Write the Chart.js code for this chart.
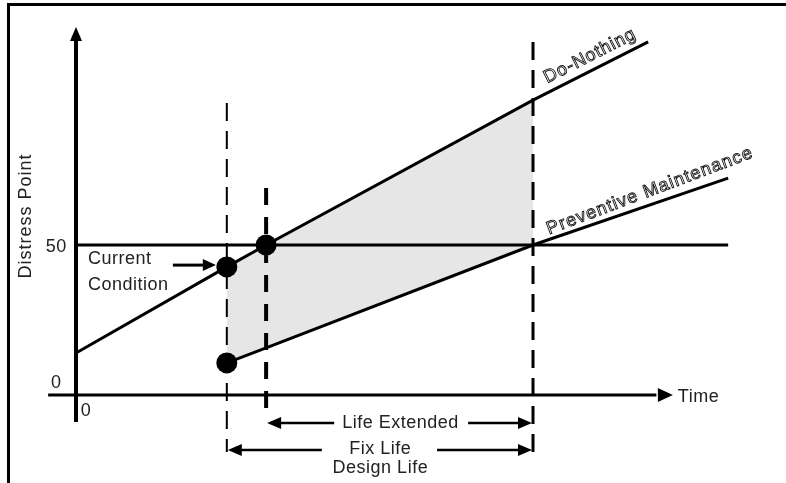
<!DOCTYPE html>
<html><head><meta charset="utf-8">
<script src="https://cdn.jsdelivr.net/npm/chart.js@4/dist/chart.umd.min.js"></script>
<style>html,body{margin:0;padding:0;background:#fff;overflow:hidden}canvas{display:block}</style>
</head><body><canvas id="c" width="786" height="483"></canvas>
<script>
// ---- Data (x = time units, y = distress points) ----
const doNothingTime      = [0, 33, 41.6, 100, 125.2];
const doNothingDistress  = [14, 42.7, 50, 98.3, 117.7];
const preventiveTime     = [33, 41.6, 100, 142.7];
const preventiveDistress = [10.7, 15.7, 50, 72.3];
const thresholdTime      = [0, 142.7];
const thresholdDistress  = [50, 50];
const markerTime         = [33, 41.6, 33];
const markerDistress     = [42.7, 50, 10.7];
const shadeTime          = [33, 41.6, 100];
const shadeUpper         = [42.7, 50, 98.3];
const shadeLower         = [10.7, 15.7, 50];
const eventTimes         = [33, 41.6, 100];   // current condition, treatment, end of design life
const eventTops          = [97.3, 69, 117.7];
const eventBottoms       = [-19, -7.3, -19];
const yTickValues        = [0, 50];
const yTickLabels        = ['0', '50'];
const xTickValues        = [0];
const xTickLabels        = ['0'];

const pts = (xs, ys) => xs.map((x, i) => ({x, y: ys[i]}));

const FONT = '18px "Liberation Sans", Arial, sans-serif';

function arrowHead(ctx, x, y, dir, len, half) {
  ctx.beginPath();
  if (dir === 'left')  { ctx.moveTo(x, y); ctx.lineTo(x + len, y - half); ctx.lineTo(x + len, y + half); }
  if (dir === 'right') { ctx.moveTo(x, y); ctx.lineTo(x - len, y - half); ctx.lineTo(x - len, y + half); }
  if (dir === 'up')    { ctx.moveTo(x, y); ctx.lineTo(x - half, y + len); ctx.lineTo(x + half, y + len); }
  ctx.closePath(); ctx.fill();
}

const decor = {
  id: 'decor',
  afterDatasetsDraw(chart) {
    const ctx = chart.ctx, xs = chart.scales.x, ys = chart.scales.y;
    const px = v => xs.getPixelForValue(v), py = v => ys.getPixelForValue(v);
    ctx.save();
    ctx.fillStyle = '#000'; ctx.strokeStyle = '#000';
    // frame
    ctx.fillRect(7, 3, 779, 3);
    ctx.fillRect(7, 3, 3, 480);
    // y axis
    ctx.lineWidth = 4;
    ctx.beginPath(); ctx.moveTo(px(0), py(-9)); ctx.lineTo(px(0), py(118.5)); ctx.stroke();
    arrowHead(ctx, px(0), py(122.7), 'up', 14, 6);
    // x axis
    ctx.lineWidth = 3;
    ctx.beginPath(); ctx.moveTo(px(-6.1), py(0)); ctx.lineTo(px(127), py(0)); ctx.stroke();
    arrowHead(ctx, px(130.6), py(0), 'right', 15, 7);

    ctx.font = FONT; ctx.fillStyle = '#222'; ctx.textBaseline = 'middle';
    ctx.letterSpacing = '0.5px';
    // tick labels
    ctx.textAlign = 'center';
    yTickValues.forEach((v, i) => ctx.fillText(yTickLabels[i], px(-4.3), py(v + (v === 0 ? 4 : -0.7))));
    xTickValues.forEach((v, i) => ctx.fillText(xTickLabels[i], px(v + 2.2), py(-5.3)));
    // axis titles
    ctx.textAlign = 'left';
    ctx.fillText('Time', px(131.7), py(-0.7));
    ctx.save();
    ctx.translate(px(-11), py(59.7)); ctx.rotate(-Math.PI / 2);
    ctx.textAlign = 'center'; ctx.letterSpacing = '1px';
    ctx.fillText('Distress Point', 0, 0);
    ctx.restore();

    // current condition label + arrow
    ctx.textAlign = 'left';
    ctx.fillText('Current', px(2.6), py(45.3));
    ctx.fillText('Condition', px(2.6), py(36.7));
    ctx.lineWidth = 3;
    ctx.beginPath(); ctx.moveTo(px(21.2), py(43.3)); ctx.lineTo(px(28), py(43.3)); ctx.stroke();
    ctx.fillStyle = '#000';
    arrowHead(ctx, px(30.6), py(43.3), 'right', 13, 6);

    // dimension arrows
    const dim = (t0, t1, d, gapL, gapR) => {
      const y = py(d);
      ctx.lineWidth = 2.5;
      ctx.beginPath();
      ctx.moveTo(px(t0) + 8, y); ctx.lineTo(gapL, y);
      ctx.moveTo(gapR, y); ctx.lineTo(px(t1) - 8, y);
      ctx.stroke();
      arrowHead(ctx, px(t0) + 1, y, 'left', 14, 6);
      arrowHead(ctx, px(t1) - 1, y, 'right', 14, 6);
    };
    dim(eventTimes[1], eventTimes[2], -9.3, px(56.5), px(85.8));
    dim(eventTimes[0], eventTimes[2], -18.3, px(53.8), px(79));
    ctx.fillStyle = '#222'; ctx.textAlign = 'center';
    ctx.fillText('Life Extended', px(71), py(-9.3));
    ctx.fillText('Fix Life', px(66.6), py(-18));
    ctx.fillText('Design Life', px(66.6), py(-24.2));

    // line labels
    ctx.save();
    ctx.translate(px(112.5), py(113)); ctx.rotate(-27 * Math.PI / 180);
    ctx.textAlign = 'center'; ctx.letterSpacing = '1px';
    ctx.lineWidth = 0.9; ctx.strokeStyle = '#111';
    ctx.strokeText('Do-Nothing', 0, 0);
    ctx.restore();
    ctx.save();
    ctx.translate(px(125.6), py(68)); ctx.rotate(-20.7 * Math.PI / 180);
    ctx.textAlign = 'center'; ctx.letterSpacing = '1.2px';
    ctx.lineWidth = 0.9; ctx.strokeStyle = '#111';
    ctx.strokeText('Preventive Maintenance', 0, 0);
    ctx.restore();
    ctx.restore();
  }
};

const vline = (i, width, dash) => ({
  data: pts([eventTimes[i], eventTimes[i]], [eventTops[i], eventBottoms[i]]),
  borderColor: '#000', borderWidth: width, borderDash: dash, pointRadius: 0, fill: false
});

new Chart(document.getElementById('c'), {
  type: 'line',
  data: {
    datasets: [
      { data: pts(markerTime, markerDistress), showLine: false, pointRadius: 10.5,
        pointBackgroundColor: '#000', pointBorderColor: '#000', borderWidth: 0 },
      { data: pts(doNothingTime, doNothingDistress), borderColor: '#000', borderWidth: 3, pointRadius: 0, fill: false },
      { data: pts(preventiveTime, preventiveDistress), borderColor: '#000', borderWidth: 3, pointRadius: 0, fill: false },
      { data: pts(thresholdTime, thresholdDistress), borderColor: '#000', borderWidth: 3, pointRadius: 0, fill: false },
      vline(0, 2, [18, 10]),
      vline(1, 4, [17, 12]),
      vline(2, 3, [18, 10]),
      { data: pts(shadeTime, shadeUpper), borderWidth: 0, borderColor: 'rgba(0,0,0,0)', pointRadius: 0,
        fill: '+1', backgroundColor: '#e6e6e6' },
      { data: pts(shadeTime, shadeLower), borderWidth: 0, borderColor: 'rgba(0,0,0,0)', pointRadius: 0, fill: false }
    ]
  },
  options: {
    responsive: false, animation: false, devicePixelRatio: 1,
    layout: { padding: 0, autoPadding: false },
    scales: {
      x: { type: 'linear', min: -16.63, max: 155.36, display: false },
      y: { type: 'linear', min: -29.33, max: 131.67, display: false }
    },
    plugins: { legend: { display: false }, tooltip: { enabled: false } },
    elements: { line: { tension: 0 } }
  },
  plugins: [decor]
});
</script></body></html>
